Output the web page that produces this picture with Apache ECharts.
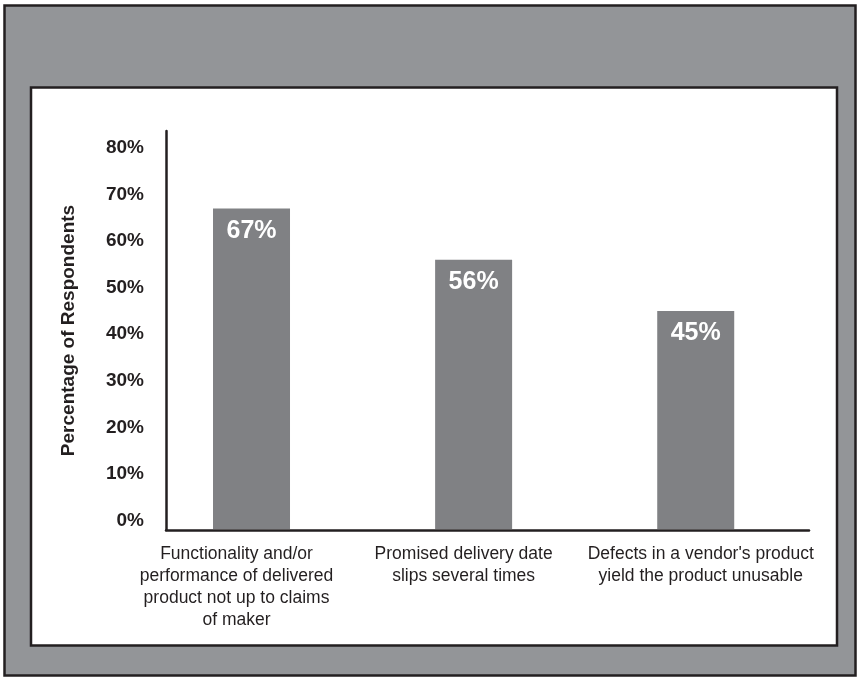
<!DOCTYPE html>
<html>
<head>
<meta charset="utf-8">
<title>Vendor problems reported</title>
<script src="https://cdn.jsdelivr.net/npm/echarts@6/dist/echarts.min.js"></script>
<style>
  html, body { margin: 0; padding: 0; background: #ffffff; }
  #chart { width: 860px; height: 679px; }
</style>
</head>
<body>
<div id="chart"></div>
<script>
// Problem categories, in drawing order
const categories = [
  'Functionality and/or\nperformance of delivered\nproduct not up to claims\nof maker',
  'Promised delivery date\nslips several times',
  "Defects in a vendor's product\nyield the product unusable"
];
// Share of respondents, percent
const percentValues = [67, 56, 45];
// Labelled ticks on the percentage axis
const percentTicks = [0, 10, 20, 30, 40, 50, 60, 70, 80];

const Y_MIN = -2;
const Y_MAX = 83.6;
const INK = '#231f20';
const BAR_COLOR = '#808184';
const FRAME_GRAY = '#939598';
const BAR_W = 77;
const SANS = "'Liberation Sans', Arial, sans-serif";

// Category label text style; each label block is nudged sideways with padding
const catText = { color: INK, fontFamily: SANS, fontSize: 17.5, lineHeight: 22 };

const chart = echarts.init(document.getElementById('chart'), null, { renderer: 'canvas' });

chart.setOption({
  animation: false,
  backgroundColor: '#ffffff',
  graphic: {
    elements: [
      {
        type: 'rect', z: -20, silent: true,
        shape: { x: 4.5, y: 5.5, width: 851, height: 670 },
        style: { fill: FRAME_GRAY, stroke: INK, lineWidth: 2.5 }
      },
      {
        type: 'rect', z: -10, silent: true,
        shape: { x: 31, y: 87.5, width: 806, height: 558 },
        style: { fill: '#ffffff', stroke: INK, lineWidth: 2.5 }
      }
    ]
  },
  grid: { left: 166, right: 51, top: 131, bottom: 149 },
  xAxis: {
    type: 'value',
    min: -0.385,
    max: 2.51,
    splitLine: { show: false },
    axisTick: { show: false },
    axisLine: { show: true, onZero: false, lineStyle: { color: INK, width: 2.5 } },
    axisLabel: {
      customValues: categories.map((_, i) => i),
      formatter: (v) => {
        const i = Math.round(v);
        return categories[i] ? '{c' + i + '|' + categories[i] + '}' : '';
      },
      rich: {
        c0: Object.assign({ padding: [0, 30, 0, 0] }, catText),
        c1: Object.assign({ padding: [0, 20, 0, 0] }, catText),
        c2: Object.assign({ padding: [0, 0, 0, 10] }, catText)
      },
      color: INK,
      fontFamily: SANS,
      fontSize: 17.5,
      lineHeight: 22,
      margin: 13,
      align: 'center'
    }
  },
  yAxis: {
    type: 'value',
    min: Y_MIN,
    max: Y_MAX,
    name: 'Percentage of Respondents',
    nameLocation: 'middle',
    nameGap: 88,
    nameRotate: 90,
    nameTextStyle: { color: INK, fontFamily: SANS, fontWeight: 'bold', fontSize: 19 },
    splitLine: { show: false },
    axisTick: { show: false },
    axisLine: { show: true, onZero: false, lineStyle: { color: INK, width: 2.5 } },
    axisLabel: {
      customValues: percentTicks,
      formatter: (v) => v + '%',
      color: INK,
      fontFamily: SANS,
      fontWeight: 'bold',
      fontSize: 19,
      margin: 22
    }
  },
  series: [{
    type: 'custom',
    clip: false,
    data: percentValues.map((v, i) => [i, v]),
    encode: { x: 0, y: 1 },
    renderItem(params, api) {
      const i = api.value(0);
      const v = api.value(1);
      const top = api.coord([i, v]);
      const base = api.coord([i, Y_MIN]);
      return {
        type: 'rect',
        shape: { x: top[0] - BAR_W / 2, y: top[1], width: BAR_W, height: base[1] - top[1] - 1 },
        style: { fill: BAR_COLOR },
        textContent: {
          style: {
            text: v + '%',
            fill: '#ffffff',
            fontFamily: SANS,
            fontWeight: 'bold',
            fontSize: 25
          }
        },
        textConfig: { position: 'insideTop', distance: 10 }
      };
    }
  }]
});
</script>
</body>
</html>
